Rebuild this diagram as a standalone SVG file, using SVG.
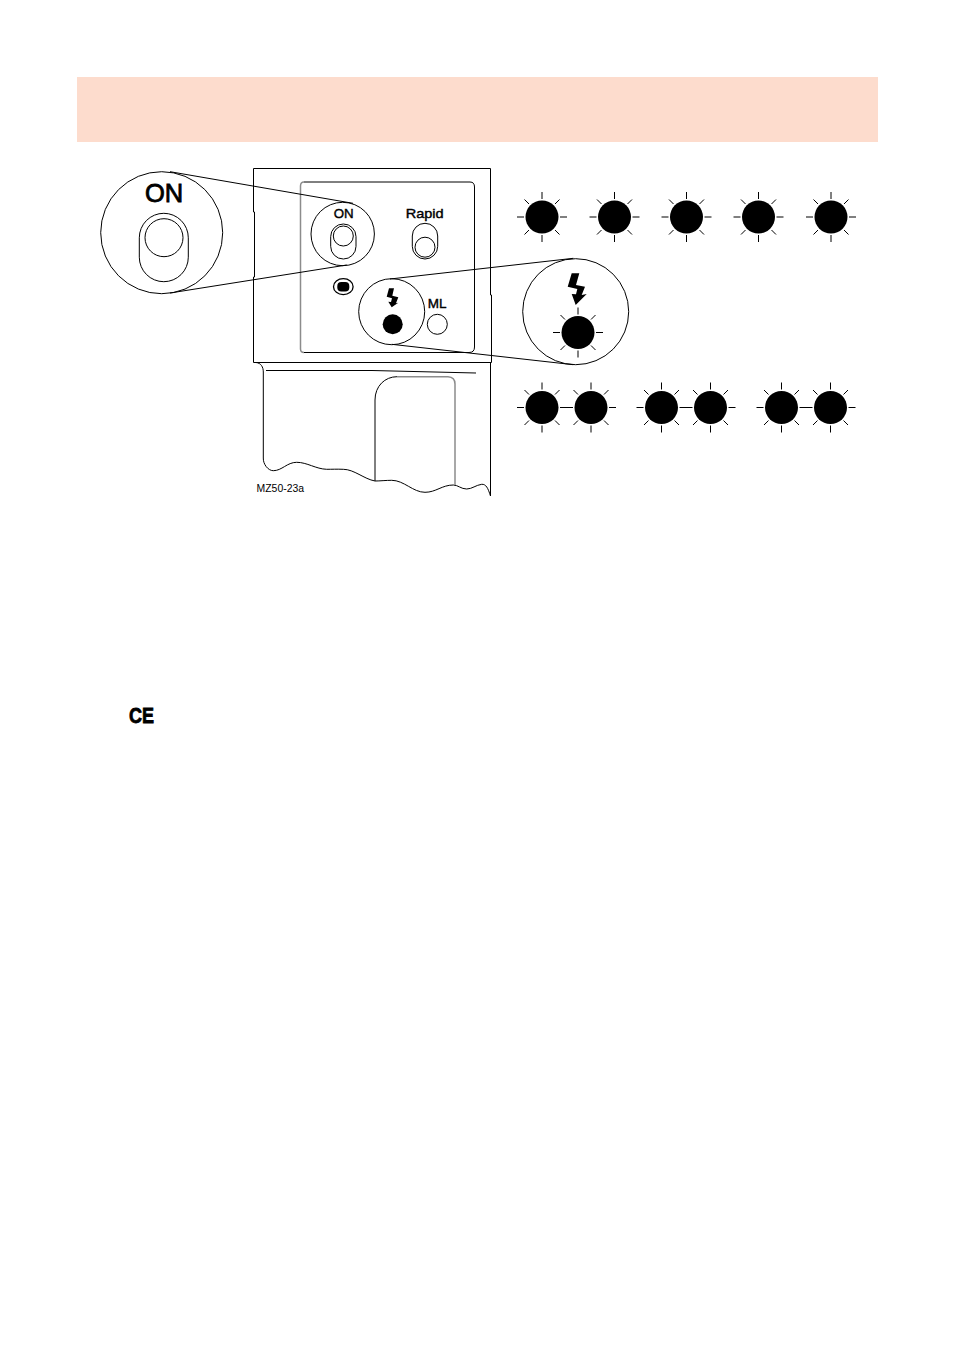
<svg xmlns="http://www.w3.org/2000/svg" width="954" height="1355" viewBox="0 0 954 1355">
<style>
.l{fill:none;stroke:#000;stroke-width:1}
.k{fill:#000}
.g{fill:none;stroke:#8c8c8c;stroke-width:1.5}
text{font-family:"Liberation Sans",Arial,sans-serif;fill:#000;text-anchor:middle}
.b{stroke:#000;stroke-width:.4}
</style>
<defs>
<g id="lamp">
<circle r="16.5" class="k"/>
<path class="l" d="M0-25V-18M0 18V25M-25 0H-18M18 0H25M-17.5-17.5L-13-13M17.5-17.5L13-13M-17.5 17.5L-13 13M17.5 17.5L13 13"/>
</g>
</defs>
<rect id="banner" x="77" y="77" width="801" height="65" fill="#fddccd"/>
<g id="device">
<path class="l" d="M253.500 168.500H490.500V295H491.500V362.500H253.500V277H254.500V212H253.500Z"/>
<path class="l" d="M304 182H470Q474.500 182 474.500 187V347Q474.500 352.500 469 352.500H304"/>
<path class="g" d="M304 352.500Q300.500 352.500 300.500 349V186Q300.500 182 304 182"/>
<path class="l" d="M490.500 362.500V496C488 488 486 484 481.700 484.300C476 485 472 489 466.700 489C461 489 458 485 453.300 485C442 485 436 492.300 425 492.300C413 492.300 404 480.300 391.700 480.300C386 480.300 380 481 375 481C364 479 354 469.300 343.300 469.300C337 469 332 469.300 326.700 469.300C316 469 307 462.300 296.700 462.300C287 462.300 282 470.700 273.300 470.700C268 470.700 263 464 263.300 458V372C263.300 367 261 363 256 362.500"/>
<path class="l" d="M266 370.500H372L476 373"/>
<path class="l" d="M375 481V400C375 386 385 376.700 397 376.700"/>
<path class="g" d="M397 376.700H448Q455 377 455 384V485"/>
<text x="280.300" y="492" font-size="10" textLength="47.500" lengthAdjust="spacingAndGlyphs">MZ50-23a</text>
</g>
<g id="connectors">
<path class="l" d="M170 171.700L353 203.300M170 293L346.700 265M390 279L573.300 258.300M391.700 344.300L573.300 364.700"/>
</g>
<g id="on-zoom">
<circle cx="161.700" cy="232.700" r="61" class="l"/>
<text x="164" y="201.500" font-size="25.500" stroke="#000" stroke-width=".8">ON</text>
<rect x="139.300" y="213.300" width="49" height="68.400" rx="24.500" class="l"/>
<circle cx="164" cy="237.700" r="19" class="l"/>
</g>
<g id="on-switch">
<circle cx="342.700" cy="234" r="31.700" class="l"/>
<text x="343.700" y="217.500" font-size="13.300" class="b">ON</text>
<rect x="330.700" y="224" width="25.300" height="35" rx="12.600" class="l"/>
<circle cx="343.300" cy="236" r="10" class="l"/>
</g>
<g id="rapid-switch">
<text x="424.700" y="217.700" font-size="13" class="b" textLength="38" lengthAdjust="spacingAndGlyphs">Rapid</text>
<rect x="412.300" y="223.300" width="25.400" height="35.700" rx="12.700" class="l"/>
<circle cx="425" cy="247.200" r="10" class="l"/>
</g>
<g id="indicator">
<ellipse cx="343.300" cy="286.700" rx="9.800" ry="8" class="l" style="stroke-width:1.300"/>
<rect x="337.300" y="282" width="12" height="9.400" rx="4" class="k"/>
</g>
<g id="flash-button">
<circle cx="391.700" cy="311.700" r="33" class="l"/>
<path class="k" d="M389 288.300H394L392.300 295.700L398.300 297.300L396 303.300L398.300 302.700L391.700 307.300L388.300 301.700L391 302L392 298.300L386.700 296.700Z"/>
<circle cx="392.700" cy="324.300" r="10" class="k"/>
</g>
<g id="ml-button">
<text x="437.200" y="308.300" font-size="13.500" class="b">ML</text>
<circle cx="437.300" cy="324.300" r="10" class="l"/>
</g>
<g id="flash-zoom">
<circle cx="575.700" cy="311.700" r="53" class="l"/>
<path class="k" d="M571.700 273.300H579.300L576 285L585 286.700L581.700 295L586.700 294L575.700 305L571.700 294L576 294.300L577.300 289L567.700 286.700Z"/>
<use href="#lamp" x="578" y="332.500"/>
</g>
<g id="lamps-row1">
<use href="#lamp" x="542" y="217"/>
<use href="#lamp" x="614.500" y="217"/>
<use href="#lamp" x="686.500" y="217"/>
<use href="#lamp" x="758.500" y="217"/>
<use href="#lamp" x="831" y="217"/>
</g>
<g id="lamps-row2">
<use href="#lamp" x="542" y="407.500"/>
<use href="#lamp" x="591" y="407.500"/>
<use href="#lamp" x="661.500" y="407.500"/>
<use href="#lamp" x="710.500" y="407.500"/>
<use href="#lamp" x="781.500" y="407.500"/>
<use href="#lamp" x="830.500" y="407.500"/>
</g>
<text id="ce-mark" x="141.500" y="723" font-size="22" font-weight="700" stroke="#000" stroke-width=".8" textLength="25" lengthAdjust="spacingAndGlyphs">CE</text>
</svg>
